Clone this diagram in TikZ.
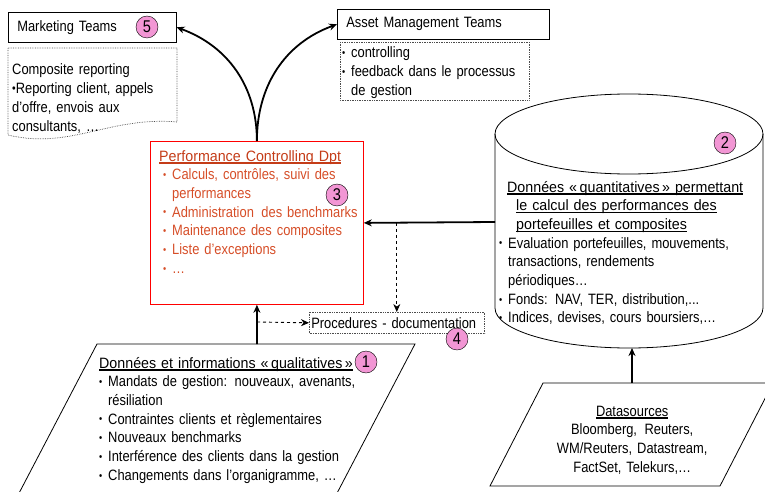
\documentclass[tikz,border=0pt]{standalone}
\usepackage{fontspec}
\setmainfont{Liberation Sans}[FakeStretch=0.86]
\newfontfamily\ttlfont{Liberation Sans}[FakeStretch=0.95]
\usepackage{tikz}
\usetikzlibrary{positioning,arrows.meta}

\definecolor{perfred}{RGB}{255,0,0}
\definecolor{perftext}{RGB}{214,78,40}
\definecolor{perfttl}{RGB}{196,60,24}
\definecolor{badgepink}{RGB}{242,150,212}

\newcommand\ulin[1]{\setbox0\hbox{#1}\rlap{\rule[-2.6pt]{\wd0}{1.5pt}}\box0}
\newcommand\bul{\makebox[9pt][l]{\raisebox{1.2pt}{\scalebox{.7}{\textbullet}}}}

\begin{document}
\begin{tikzpicture}[x=1pt,y=-1pt,>={Stealth[length=8pt,width=7pt]},
    txt/.style={anchor=base west,inner sep=0pt,text width=#1,align=left,
      font=\fontsize{15}{18.7}\selectfont},
    box/.style={draw,semithick,anchor=north west,align=left,
      font=\fontsize{15}{18.7}\selectfont},
    dotbox/.style={densely dotted,black!70,line width=0.7pt},
    badge/.style={circle,draw,fill=badgepink,minimum size=22pt,inner sep=0pt,
      font=\fontsize{17}{17}\selectfont},
    flow/.style={->,line width=1.8pt},
    dflow/.style={->,dashed,line width=0.9pt}]
  \clip (0,0) rectangle (765,492);

  % marketing
  \node[box,minimum height=30pt,text width=150pt,inner xsep=9pt] (mkt) at (8,12) {Marketing Teams};
  \node[badge] (b5) at (147,27) {5};
  \draw[dotbox] (8,48) -- (177,48) -- (177,122)
    .. controls (110,116) and (70,150) .. (8,135) -- cycle;
  \node[txt=165pt] (mktdoc) at (12,75) {Composite reporting\\
    \raisebox{1pt}{\scalebox{.8}{\textbullet}}Reporting client, appels\\
    d'offre, envois aux\\ consultants, \dots};

  % asset management
  \node[box,minimum height=30pt,text width=194pt,inner xsep=9pt] (ams) at (337,9) {Asset Management Teams};
  \draw[dotbox] (340,42) rectangle (529,100);
  \node[txt=185pt] (amsdoc) at (342,58) {\bul controlling\\
    \bul feedback dans le processus\\ \hspace*{9pt}de gestion};

  % performance controlling
  \node[draw=perfred,thick,anchor=north west,minimum width=213pt,minimum height=163pt] (perf) at (150,141) {};
  \node[txt=200pt,text=perftext] (perfdoc) at (159,161) {%
    {\ttlfont\color{perfttl}\ulin{Performance Controlling Dpt}}\\
    \hspace*{4pt}\bul Calculs, contr\^oles, suivi des\\
    \hspace*{13pt}performances\\
    \hspace*{4pt}\bul Administration\, des benchmarks\\
    \hspace*{4pt}\bul Maintenance des composites\\
    \hspace*{4pt}\bul Liste d'exceptions\\
    \hspace*{4pt}\bul \dots};
  \node[badge] (b3) at (337,195) {3};

  % quantitative data (cylinder)
  \draw[thick] (495,134) -- (495,308) arc[start angle=180,end angle=360,x radius=134pt,y radius=40pt] -- (763,134);
  \draw[thick] (629,134) ellipse [x radius=134pt,y radius=40pt];
  \coordinate (cylw) at (495,222);
  \coordinate (cylb) at (632,348);
  \node[badge] (b2) at (725,143) {2};
  \node[txt=262pt] (cyl) at (499,192) {%
    \hspace*{8pt}{\ttlfont\ulin{Donn\'ees \guillemotleft\,quantitatives\,\guillemotright\ permettant}}\\
    \hspace*{17pt}{\ttlfont\ulin{le calcul des performances des}}\\
    \hspace*{17pt}{\ttlfont\ulin{portefeuilles et composites}}\\
    \bul Evaluation portefeuilles, mouvements,\\
    \hspace*{9pt}transactions, rendements\\
    \hspace*{9pt}p\'eriodiques\dots\\
    \bul Fonds: NAV, TER, distribution,...\\
    \bul Indices, devises, cours boursiers,\dots};

  % procedures
  \node[box,draw=none,minimum width=175pt,minimum height=21pt,text width=171pt,inner xsep=2pt] (proc) at (309,312) {Procedures - documentation};
  \draw[dotbox] (proc.north west) rectangle (proc.south east);
  \node[badge] (b4) at (457,339) {4};

  % qualitative data
  \draw[thick] (97,344) -- (415,344) -- (323,520) -- (5,520) -- cycle;
  \coordinate (qualtop) at (257,344);
  \node[txt=300pt] (qual) at (99,368) {%
    {\ttlfont\ulin{Donn\'ees et informations \guillemotleft\,qualitatives\,\guillemotright}}\\
    \bul Mandats de gestion: nouveaux, avenants,\\
    \hspace*{9pt}r\'esiliation\\
    \bul Contraintes clients et r\`eglementaires\\
    \bul Nouveaux benchmarks\\
    \bul Interf\'erence des clients dans la gestion\\
    \bul Changements dans l'organigramme, \dots};
  \node[badge] (b1) at (366,362) {1};

  % datasources
  \draw[thick] (543,383) -- (773,383) -- (720,486) -- (490,486) -- cycle;
  \coordinate (srctop) at (632,383);
  \node[txt=200pt,align=center] (src) at (532,416) {%
    \ulin{Datasources}\\ Bloomberg,\, Reuters,\\ WM/Reuters, Datastream,\\ FactSet, Telekurs,\dots};

  % connectors
  \draw[flow] (perf.north) to[out=90,in=-20] (mkt.east);
  \draw[flow] (perf.north) to[out=90,in=200] (ams.west);
  \draw[flow] (cylw) -- (perf.east);
  \draw[dflow] (proc.north |- perf.east) -- (proc.north);
  \draw[flow] (qualtop) -- (perf.south);
  \coordinate (dsplit) at (257,322);
  \draw[dflow] (dsplit) -- (proc.west);
  \draw[flow] (srctop) -- (cylb);
\end{tikzpicture}
\end{document}
